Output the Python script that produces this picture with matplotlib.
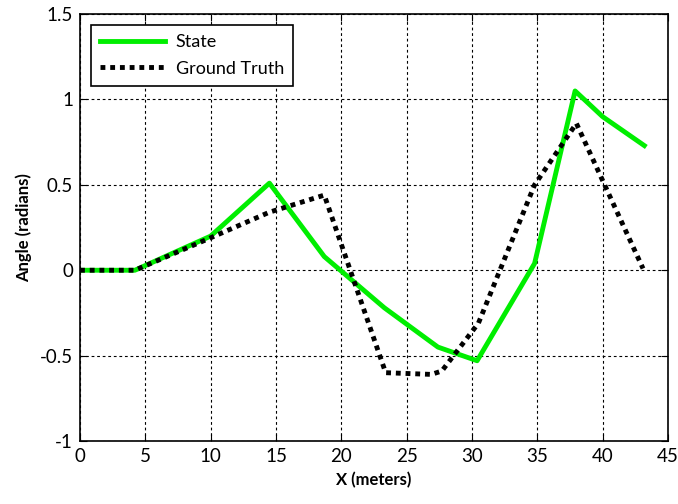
import matplotlib.pyplot as plt

state_x = [0, 4.2, 10, 14.5, 18.7, 23.3, 27.4, 30.4, 34.8, 37.9, 40, 43.2]
state_y = [0, 0, 0.2, 0.51, 0.08, -0.22, -0.45, -0.53, 0.04, 1.05, 0.9, 0.73]

truth_x = [0, 4.2, 10, 14.5, 18.7, 23.4, 26.9, 27.7, 30.5, 34.8, 38, 43.1]
truth_y = [0, 0, 0.19, 0.34, 0.44, -0.6, -0.61, -0.59, -0.31, 0.5, 0.86, 0.01]

plt.rcParams['font.family'] = ['Lato', 'DejaVu Sans']

fig = plt.figure(figsize=(6.78, 5.04), dpi=100)
ax = fig.add_axes([0.118, 0.125, 0.867, 0.847])

ax.plot(state_x, state_y, color='#00ee00', linewidth=3.5, label='State')
ax.plot(truth_x, truth_y, color='black', linewidth=3.5,
        linestyle=(0, (1, 1)), dash_capstyle='butt', label='Ground Truth')

ax.set_xlim(0, 45)
ax.set_ylim(-1, 1.5)
ax.set_xticks(range(0, 46, 5))
ax.set_yticks([-1, -0.5, 0, 0.5, 1, 1.5])
ax.set_yticklabels(['-1', '-0.5', '0', '0.5', '1', '1.5'])
ax.tick_params(direction='in', top=True, right=True, labelsize=13.5,
               length=5, pad=5)
ax.grid(True, color='black', linestyle=(0, (2.5, 2.5)), linewidth=0.8)
for s in ax.spines.values():
    s.set_linewidth(1.2)

ax.set_xlabel('X (meters)', fontsize=12, fontweight='bold', labelpad=5)
ax.set_ylabel('Angle (radians)', fontsize=12, fontweight='bold', labelpad=6)

leg = ax.legend(loc='upper left', fontsize=13, fancybox=False, framealpha=1,
                edgecolor='black', handlelength=3.6, handletextpad=0.6,
                borderaxespad=0.6, borderpad=0.5, labelspacing=0.6)
leg.get_frame().set_linewidth(1.2)

fig.savefig('out.png', dpi=100)
